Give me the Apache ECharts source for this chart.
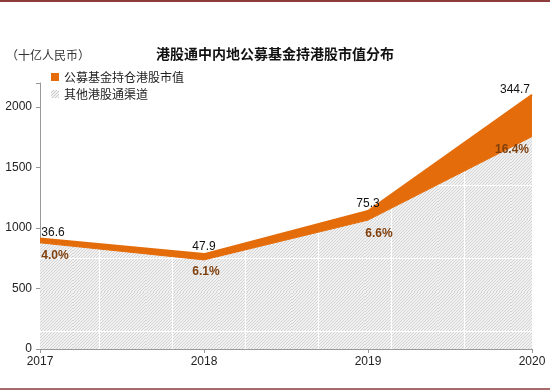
<!DOCTYPE html>
<html><head><meta charset="utf-8">
<script src="https://cdn.jsdelivr.net/npm/echarts@6/dist/echarts.min.js"></script>
<style>html,body{margin:0;padding:0;background:#fff}#c{width:550px;height:391px}</style>
</head><body><div id="c"></div>
<script>
var years = ['2017', '2018', '2019', '2020'];
var fundValue = [36.6, 47.9, 75.3, 344.7];
var fundShare = ['4.0%', '6.1%', '6.6%', '16.4%'];
var otherValue = [878, 737, 1066, 1757];
var yTicks = [0, 500, 1000, 1500, 2000];
var title = '港股通中内地公募基金持港股市值分布';
var unit = '（十亿人民币）';
var seriesNames = ['公募基金持仓港股市值', '其他港股通渠道'];

var totals = otherValue.map(function (v, i) { return v + fundValue[i]; });

// hatch pattern
var tile = document.createElement('canvas');
tile.width = 73; tile.height = 73;
var g = tile.getContext('2d');
g.fillStyle = '#f1f1f1'; g.fillRect(0, 0, 73, 73);
g.strokeStyle = '#d4d4d4'; g.lineWidth = 1;
for (var k = -80; k < 160; k += 3) { g.beginPath(); g.moveTo(k, 73); g.lineTo(k + 73, 0); g.stroke(); }
g.fillStyle = '#ffffff';
g.fillRect(26, 0, 1, 73);
g.fillRect(0, 39, 73, 1);
var small = document.createElement('canvas');
small.width = 6; small.height = 6;
var s = small.getContext('2d');
s.fillStyle = '#f1f1f1'; s.fillRect(0, 0, 6, 6);
s.strokeStyle = '#cccccc';
for (var k2 = -6; k2 < 12; k2 += 3) { s.beginPath(); s.moveTo(k2, 6); s.lineTo(k2 + 6, 0); s.stroke(); }

var orange = '#E46C0A';
var brown = '#7F3F0C';
var topOffsets = [[13, 1], [0, 0], [0, 0], [-17, 2]];
var pctOffsets = [[15, 1], [2, 0], [11, 2], [-20, 1]];

var chart = echarts.init(document.getElementById('c'), null, { renderer: 'canvas' });
chart.setOption({
  animation: false,
  graphic: [
    { type: 'rect', shape: { x: 0, y: 0, width: 550, height: 2 }, style: { fill: '#8E3B3B' } },
    { type: 'rect', shape: { x: 0, y: 388, width: 550, height: 2 }, style: { fill: '#A86A6A' } },
    { type: 'text', left: 6, top: 49, style: { text: unit, font: '12px "Noto Sans CJK SC"', fill: '#333' } },
    { type: 'text', left: 'center', top: 47, style: { text: title, font: 'bold 14px "Noto Sans CJK SC"', fill: '#111' } }
  ],
  grid: { left: 40, right: 18, top: 83, bottom: 42 },
  legend: {
    orient: 'vertical', left: 46, top: 66, itemGap: 5, itemWidth: 8, itemHeight: 8,
    textStyle: { fontSize: 12, color: '#222', fontFamily: '"Noto Sans CJK SC"' },
    data: [
      { name: seriesNames[0], icon: 'rect', itemStyle: { color: orange } },
      { name: seriesNames[1], icon: 'rect', itemStyle: { color: { image: small, repeat: 'repeat' } } }
    ]
  },
  xAxis: {
    type: 'category', data: years, boundaryGap: false,
    axisLine: { lineStyle: { color: '#999' } },
    axisTick: { show: true, length: 4, lineStyle: { color: '#999' } },
    axisLabel: { color: '#222', fontSize: 12, fontFamily: 'Liberation Sans', margin: 7 },
    splitLine: { show: false }
  },
  yAxis: {
    type: 'value', min: 0, max: 2200, interval: 500,
    axisLine: { show: true, lineStyle: { color: '#999' } },
    axisTick: { show: true, length: 4, lineStyle: { color: '#999' } },
    axisLabel: {
      color: '#222', fontSize: 12, fontFamily: 'Liberation Sans', margin: 8,
      formatter: function (v) { return yTicks.indexOf(v) >= 0 ? String(v) : ''; }
    },
    splitLine: { show: false }
  },
  series: [
    {
      name: seriesNames[1], type: 'line', stack: 'all', data: otherValue,
      symbol: 'none', lineStyle: { width: 1, color: orange },
      itemStyle: { color: { image: small, repeat: 'repeat' } },
      areaStyle: { color: { image: tile, repeat: 'repeat' }, opacity: 1 },
      z: 2
    },
    {
      name: seriesNames[0], type: 'line', stack: 'all', data: fundValue,
      symbol: 'none', lineStyle: { width: 2, color: orange },
      itemStyle: { color: orange },
      areaStyle: { color: orange, opacity: 1 },
      z: 3
    },
    {
      name: 'lblTop', type: 'scatter', data: totals.map(function (v, i) {
        return { value: v, label: { show: true, position: 'top', offset: topOffsets[i], formatter: String(fundValue[i]) } };
      }),
      symbol: 'circle', symbolSize: 2, itemStyle: { color: 'rgba(0,0,0,0)', opacity: 1 },
      silent: true, z: 5,
      label: { color: '#111', fontSize: 12, fontFamily: 'Liberation Sans', distance: 0, opacity: 1 }
    },
    {
      name: 'lblPct', type: 'scatter', data: otherValue.map(function (v, i) {
        return { value: v, label: { show: true, position: 'bottom', offset: pctOffsets[i], formatter: fundShare[i] } };
      }),
      symbol: 'circle', symbolSize: 2, itemStyle: { color: 'rgba(0,0,0,0)', opacity: 1 },
      silent: true, z: 5,
      label: { color: brown, fontSize: 12, fontWeight: 'bold', fontFamily: 'Liberation Sans', distance: 5, opacity: 1 }
    }
  ]
});
</script></body></html>
